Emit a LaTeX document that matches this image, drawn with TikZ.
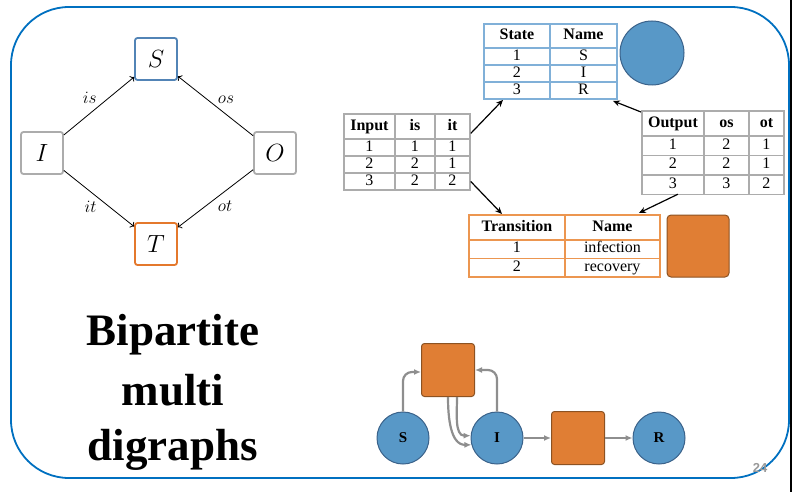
\documentclass[tikz,border=0pt]{standalone}
\usepackage{fontspec}
\setmainfont{Liberation Serif}
\setsansfont{Liberation Sans}
\usepackage{tikz}
\usetikzlibrary{arrows.meta,calc,matrix}
\definecolor{FrameBlue}{RGB}{0,112,192}
\definecolor{PlaceBlue}{RGB}{88,152,199}
\definecolor{PlaceEdge}{RGB}{58,98,138}
\definecolor{TransOrange}{RGB}{224,126,52}
\definecolor{TransEdge}{RGB}{140,82,34}
\definecolor{ArcGray}{RGB}{142,142,142}
\definecolor{BoxGray}{RGB}{172,172,172}
\definecolor{SBlue}{RGB}{82,132,182}
\definecolor{TOrange}{RGB}{228,120,44}
\definecolor{StateLine}{RGB}{128,176,216}
\definecolor{TransLine}{RGB}{236,150,80}
\newcommand{\tabfont}{\fontsize{16}{16}\selectfont}

\begin{document}
\begin{tikzpicture}[
  x=1pt,y=-1pt,
  obj/.style={
    draw,rounded corners=2.5pt,line width=1.8pt,
    minimum size=42pt,inner sep=0pt,font=\fontsize{28}{28}\selectfont
  },
  hom/.style={->,line width=0.8pt},
  lbl/.style={font=\fontsize{17}{17}\selectfont,inner sep=2pt},
  tab/.style={
    matrix of nodes,inner sep=0pt,anchor=north west,
    column sep=-1.5pt,row sep=-1.5pt,
    nodes={draw,line width=1.5pt,inner sep=0pt,minimum height=17pt,
      text height=10.5pt,text depth=3pt,font=\tabfont}
  },
  head/.style={row 1/.style={nodes={minimum height=#1,font=\tabfont\bfseries}}},
  flow/.style={-{Stealth[length=7pt,width=6pt]},line width=1.2pt},
  place/.style={
    circle,draw=PlaceEdge,fill=PlaceBlue,line width=1pt,
    minimum size=52pt,inner sep=0pt,font=\fontsize{15}{15}\selectfont\bfseries
  },
  trans/.style={draw=TransEdge,fill=TransOrange,rounded corners=3pt,
    minimum size=53pt,line width=1pt},
  arc/.style={-{Latex[length=7pt,width=6pt]},draw=ArcGray,line width=2.2pt},
  title/.style={anchor=base,font=\fontsize{45}{45}\selectfont\bfseries}
]
  \useasboundingbox (0,0) rectangle (794,492);
  \draw[FrameBlue,line width=1.8pt,rounded corners=58pt] (11,7) rectangle (789,478);
  \draw[line width=2pt] (791,0) -- (791,492);

  % schema
  \node[obj,draw=SBlue] (S) at (156,59) {$S$};
  \node[obj,draw=BoxGray] (I) at (42,153) {$I$};
  \node[obj,draw=BoxGray] (O) at (275,153) {$O$};
  \node[obj,draw=TOrange] (T) at (156,244) {$T$};
  \draw[hom] (I) -- node[above left,lbl] {$is$} (S);
  \draw[hom] (O) -- node[above right,lbl] {$os$} (S);
  \draw[hom] (I) -- node[below left,lbl] {$it$} (T);
  \draw[hom] (O) -- node[below right,lbl] {$ot$} (T);

  \node[title] (tl1) at (173,345) {Bipartite};
  \node[title] (tl2) at (173,405) {multi};
  \node[title] (tl3) at (173,460) {digraphs};

  % tables
  \matrix (sttab) [tab,nodes={draw=StateLine},head=24pt,
    column 1/.style={nodes={minimum width=66pt}},
    column 2/.style={nodes={minimum width=67pt}}] at (483,23) {
    State & Name \\
    1 & S \\
    2 & I \\
    3 & R \\
  };
  \matrix (intab) [tab,nodes={draw=BoxGray},head=25pt,
    column 1/.style={nodes={minimum width=51pt}},
    column 2/.style={nodes={minimum width=40pt}},
    column 3/.style={nodes={minimum width=35pt}}] at (343,113) {
    Input & is & it \\
    1 & 1 & 1 \\
    2 & 2 & 1 \\
    3 & 2 & 2 \\
  };
  \matrix (outtab) [tab,nodes={draw=BoxGray,minimum height=19.5pt},head=25pt,
    column 1/.style={nodes={minimum width=62pt}},
    column 2/.style={nodes={minimum width=45pt}},
    column 3/.style={nodes={minimum width=35pt}}] at (641,110) {
    Output & os & ot \\
    1 & 2 & 1 \\
    2 & 2 & 1 \\
    3 & 3 & 2 \\
  };
  \matrix (trtab) [tab,nodes={draw=TransLine,minimum height=18.5pt},head=25pt,
    column 1/.style={nodes={minimum width=96pt}},
    column 2/.style={nodes={minimum width=95pt}}] at (468,214) {
    Transition & Name \\
    1 & infection \\
    2 & recovery \\
  };
  \node[place,minimum size=64pt] (stMark) at (652,53) {};
  \node[trans,minimum size=62pt,rounded corners=4pt] (trMark) at (698,246) {};

  \draw[flow] ($(intab-1-3.east)+(0,7)$) -- ($(sttab.south west)+(20,0)$);
  \draw[flow] ($(outtab.north west)+(0,2)$) -- ($(sttab.south east)+(-5,1)$);
  \draw[flow] (intab-4-3.east) -- ($(trtab.north west)+(34,0)$);
  \draw[flow] ($(outtab-4-1.south)+(5,-1)$) -- ($(trtab.north east)+(-22,-1)$);

  % SIR net
  \node[place] (pS) at (403,438) {S};
  \node[place] (pI) at (497,438) {I};
  \node[place] (pR) at (659,438) {R};
  \node[trans] (tInf) at (448,370) {};
  \node[trans] (tRec) at (578,438) {};
  \draw[arc,rounded corners=9pt] (pS.north) |- ($(tInf.west)+(0,2)$);
  \draw[arc,rounded corners=9pt] (pI.north) |- (tInf.east);
  \draw[arc] (tInf.south) to[out=-90,in=180] (pI.195);
  \draw[arc] ($(tInf.south)+(9,0)$) to[out=-90,in=180] (pI.175);
  \draw[arc] (pI) -- (tRec);
  \draw[arc] (tRec) -- (pR);

  \node[font=\sffamily\bfseries\fontsize{13}{13}\selectfont,text=black!40] (pgno) at (760,468) {24};
\end{tikzpicture}
\end{document}
